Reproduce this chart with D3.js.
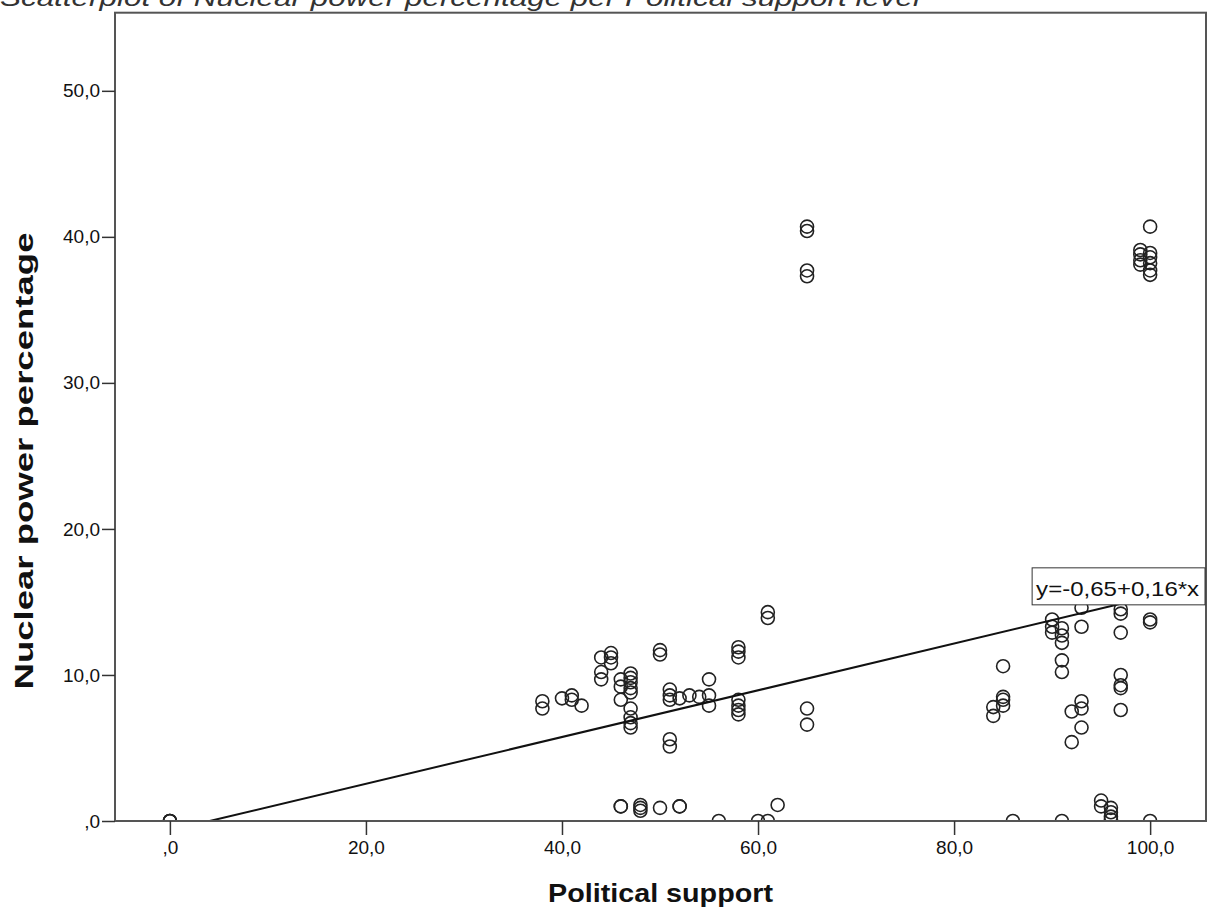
<!DOCTYPE html>
<html><head><meta charset="utf-8">
<script src="https://cdn.jsdelivr.net/npm/d3@7"></script>
<style>
html,body{margin:0;padding:0;background:#fff;overflow:hidden}
svg{display:block}
text{font-family:"Liberation Sans",Arial,sans-serif}
</style></head>
<body>
<svg id="chart" width="1209" height="916"></svg>
<script>
// ---- data ----
const chartTitle = "Scatterplot of Nuclear power percentage per Political support level";
const xTitle = "Political support";
const yTitle = "Nuclear power percentage";
const politicalSupport = [
  0,0,0,
  38,38,40,41,41,42,
  44,44,44,45,45,45,46,46,46,
  47,47,47,47,47,47,47,47,47,
  50,50,51,51,51,51,51,52,53,54,55,55,55,
  58,58,58,58,58,58,58,
  65,65,65,65,65,65,61,61,
  46,46,48,48,48,50,52,52,
  56,60,61,62,
  84,84,85,85,85,85,86,
  90,90,90,91,91,91,91,91,91,
  92,92,93,93,93,93,93,
  95,95,96,96,96,96,
  97,97,97,97,97,97,97,
  99,99,99,99,
  100,100,100,100,100,100,100,100,100
];
const nuclearPower = [
  0,0,0,
  8.2,7.7,8.4,8.6,8.3,7.9,
  11.2,10.2,9.7,11.5,11.2,10.8,9.7,9.2,8.3,
  10.1,9.8,9.5,9.1,8.8,7.7,7.1,6.7,6.4,
  11.7,11.4,9.0,8.6,8.3,5.6,5.1,8.4,8.6,8.5,9.7,8.6,7.9,
  11.9,11.6,11.2,8.3,7.9,7.6,7.3,
  7.7,6.6,40.7,40.4,37.7,37.3,14.3,13.9,
  1.0,1.0,1.1,0.9,0.7,0.9,1.0,1.0,
  0,0,0,1.1,
  7.8,7.2,10.6,8.5,8.3,7.9,0,
  13.8,13.3,12.9,13.2,12.7,12.2,11.0,10.2,0,
  7.5,5.4,14.6,13.3,8.2,7.7,6.4,
  1.4,1.0,0.9,0.6,0.3,0.1,
  14.5,14.2,12.9,10.0,9.3,9.1,7.6,
  39.1,38.8,38.4,38.1,
  40.7,38.9,38.6,38.2,37.7,37.4,13.6,13.8,0
];
const fitIntercept = -0.65;
const fitSlope = 0.16;
const fitLabel = "y=-0,65+0,16*x";
const xTicks = [0,20,40,60,80,100];
const xTickLabels = [",0","20,0","40,0","60,0","80,0","100,0"];
const yTicks = [0,10,20,30,40,50];
const yTickLabels = [",0","10,0","20,0","30,0","40,0","50,0"];

// ---- layout ----
const svg = d3.select("#chart");
const L = 115, R = 1206, T = 12.7, B = 821;
const x = d3.scaleLinear().domain([-5.6, 105.7]).range([L, R]);
const y = d3.scaleLinear().domain([0, 55.35]).range([B, T]);

svg.append("defs").append("clipPath").attr("id","plotclip")
  .append("rect").attr("x",L).attr("y",T).attr("width",R-L).attr("height",B-T);

// title (cut off at top)
svg.append("text").attr("x",0).attr("y",6)
  .attr("font-size",24).attr("font-style","italic").attr("fill","#333")
  .attr("textLength",920).attr("lengthAdjust","spacingAndGlyphs")
  .text(chartTitle);

// points
const pts = politicalSupport.map((v,i)=>({x:v,y:nuclearPower[i]}));
const g = svg.append("g").attr("clip-path","url(#plotclip)");
g.selectAll("circle").data(pts).enter().append("circle")
  .attr("cx",d=>x(d.x)).attr("cy",d=>y(d.y)).attr("r",6.5)
  .attr("fill","none").attr("stroke","#222").attr("stroke-width",1.6);

// fit line
const x0 = -fitIntercept/fitSlope, x1 = 100;
g.append("line")
  .attr("x1",x(x0)).attr("y1",y(fitIntercept+fitSlope*x0))
  .attr("x2",x(x1)).attr("y2",y(fitIntercept+fitSlope*x1))
  .attr("stroke","#111").attr("stroke-width",2);

// frame
svg.append("rect").attr("x",L).attr("y",T).attr("width",R-L).attr("height",B-T)
  .attr("fill","none").attr("stroke","#555").attr("stroke-width",2);

// axes
const xAxis = d3.axisBottom(x).tickValues(xTicks).tickSize(14).tickPadding(6)
  .tickFormat((d,i)=>xTickLabels[i]);
const gx = svg.append("g").attr("transform",`translate(0,${B})`).call(xAxis);
gx.select(".domain").remove();
gx.selectAll("line").attr("stroke","#333").attr("stroke-width",1.5);
gx.selectAll("text").attr("font-size",19).attr("fill","#111")
  .attr("font-family","Liberation Sans, Arial, sans-serif");

const yAxis = d3.axisLeft(y).tickValues(yTicks).tickSize(13).tickPadding(2)
  .tickFormat((d,i)=>yTickLabels[i]);
const gy = svg.append("g").attr("transform",`translate(${L},0)`).call(yAxis);
gy.select(".domain").remove();
gy.selectAll("line").attr("stroke","#333").attr("stroke-width",1.5);
gy.selectAll("text").attr("font-size",19).attr("fill","#111")
  .attr("font-family","Liberation Sans, Arial, sans-serif");

// axis titles
svg.append("text").attr("x",(L+R)/2).attr("y",902).attr("text-anchor","middle")
  .attr("font-size",25).attr("font-weight","bold").attr("fill","#111")
  .attr("textLength",225).attr("lengthAdjust","spacingAndGlyphs")
  .text(xTitle);
svg.append("text").attr("transform",`translate(33,${461}) rotate(-90)`)
  .attr("text-anchor","middle")
  .attr("font-size",25).attr("font-weight","bold").attr("fill","#111")
  .attr("textLength",457).attr("lengthAdjust","spacingAndGlyphs")
  .text(yTitle);

// fit label box
const bx = x(100) - 118, by = y(fitIntercept+fitSlope*100) - 29;
svg.append("rect").attr("x",bx).attr("y",by).attr("width",R-1-bx).attr("height",37)
  .attr("fill","#fff").attr("stroke","#333").attr("stroke-width",1);
svg.append("text").attr("x",bx+4).attr("y",by+28)
  .attr("font-size",21).attr("fill","#111")
  .attr("textLength",163).attr("lengthAdjust","spacingAndGlyphs")
  .text(fitLabel);
</script>
</body></html>
